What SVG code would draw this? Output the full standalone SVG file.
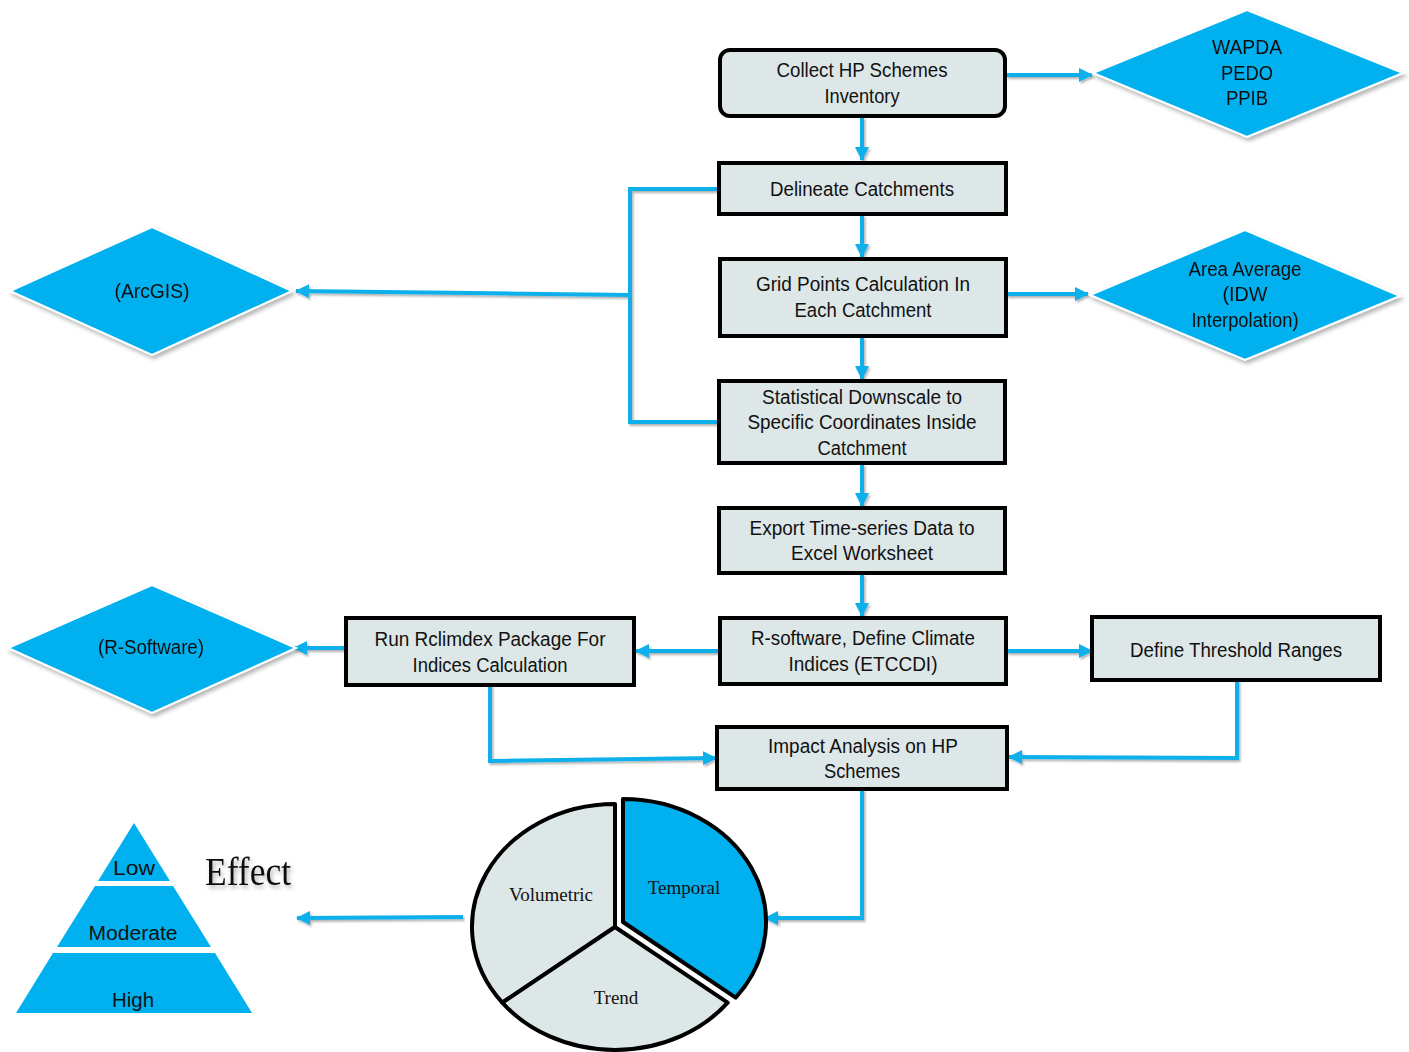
<svg xmlns="http://www.w3.org/2000/svg" width="1409" height="1052" viewBox="0 0 1409 1052">
<defs>
<filter id="sh" x="-10%" y="-10%" width="130%" height="130%">
<feDropShadow dx="2" dy="3" stdDeviation="2" flood-color="#000" flood-opacity="0.3"/>
</filter>
<filter id="lsh" x="-5%" y="-50%" width="110%" height="200%">
<feDropShadow dx="1.5" dy="2" stdDeviation="1.2" flood-color="#000" flood-opacity="0.3"/>
</filter>
<marker id="ah" markerUnits="userSpaceOnUse" markerWidth="14" markerHeight="14" refX="13" refY="7" orient="auto">
<path d="M0,0 L14,7 L0,14 z" fill="#0fb0ea"/>
</marker>
</defs>
<style>
.box{fill:#dde7e7;stroke:#000;stroke-width:4}
.dia{fill:#00b0ef;stroke:#fff;stroke-width:2}
.t{font-family:"Liberation Sans",Arial,sans-serif;font-size:20px;fill:#111;text-anchor:middle}
.s{font-family:"Liberation Serif","Times New Roman",serif;font-size:19px;fill:#111;text-anchor:middle}
.c{fill:none;stroke:#0fb0ea;stroke-width:4}
.a{marker-end:url(#ah)}
.pie{stroke:#000;stroke-width:4;stroke-linejoin:round}
.pyr{fill:#00b0ef}
</style>
<rect width="1409" height="1052" fill="#fff"/>

<g id="connectors" filter="url(#lsh)">
<path class="c a" d="M862,117 L862,160"/>
<path class="c a" d="M1006,75 L1092,75"/>
<path class="c a" d="M862,215 L862,257"/>
<path class="c a" d="M1006,294 L1088,294"/>
<path class="c a" d="M862,337 L862,379"/>
<path class="c a" d="M862,464 L862,506"/>
<path class="c a" d="M862,574 L862,616"/>
<path class="c a" d="M720,651 L636,651"/>
<path class="c a" d="M1006,651 L1092,651"/>
<path class="c a" d="M346,648 L294,648"/>
<path class="c" d="M719,189 L630,189 L630,422 L719,422"/>
<path class="c a" d="M630,295 L296,291"/>
<path class="c a" d="M490,685 L490,761 L716,758"/>
<path class="c a" d="M1237,680 L1237,758 L1009,757"/>
<path class="c a" d="M862,789 L862,918 L765,918"/>
<path class="c a" d="M463,917 L297,918"/>
</g>

<g id="n-collect">
<rect class="box" x="720" y="50" width="285" height="66" rx="10"/>
<text class="t" x="862" y="77" textLength="171" lengthAdjust="spacingAndGlyphs">Collect  HP  Schemes</text>
<text class="t" x="862" y="103" textLength="75" lengthAdjust="spacingAndGlyphs">Inventory</text>
</g>
<g id="n-wapda" filter="url(#sh)">
<polygon class="dia" points="1093,73 1247,10 1403,73 1247,137"/>
<text class="t" x="1247" y="54" textLength="70" lengthAdjust="spacingAndGlyphs">WAPDA</text>
<text class="t" x="1247" y="80" textLength="52" lengthAdjust="spacingAndGlyphs">PEDO</text>
<text class="t" x="1247" y="105" textLength="42" lengthAdjust="spacingAndGlyphs">PPIB</text>
</g>
<g id="n-delineate">
<rect class="box" x="719" y="163" width="287" height="51"/>
<text class="t" x="862" y="196" textLength="184" lengthAdjust="spacingAndGlyphs">Delineate  Catchments</text>
</g>
<g id="n-grid">
<rect class="box" x="720" y="259" width="286" height="77"/>
<text class="t" x="863" y="291" textLength="214" lengthAdjust="spacingAndGlyphs">Grid Points  Calculation  In</text>
<text class="t" x="863" y="317" textLength="137" lengthAdjust="spacingAndGlyphs">Each Catchment</text>
</g>
<g id="n-area" filter="url(#sh)">
<polygon class="dia" points="1090,295 1245,230 1400,296 1245,360"/>
<text class="t" x="1245" y="276" textLength="113" lengthAdjust="spacingAndGlyphs">Area Average</text>
<text class="t" x="1245" y="301" textLength="45" lengthAdjust="spacingAndGlyphs">(IDW</text>
<text class="t" x="1245" y="327" textLength="107" lengthAdjust="spacingAndGlyphs">Interpolation)</text>
</g>
<g id="n-arcgis" filter="url(#sh)">
<polygon class="dia" points="10,291 152,227 292,291 152,355"/>
<text class="t" x="152" y="298" textLength="75" lengthAdjust="spacingAndGlyphs">(ArcGIS)</text>
</g>
<g id="n-downscale">
<rect class="box" x="719" y="381" width="286" height="82"/>
<text class="t" x="862" y="404" textLength="200" lengthAdjust="spacingAndGlyphs">Statistical  Downscale  to</text>
<text class="t" x="862" y="429" textLength="229" lengthAdjust="spacingAndGlyphs">Specific Coordinates  Inside</text>
<text class="t" x="862" y="455" textLength="89" lengthAdjust="spacingAndGlyphs">Catchment</text>
</g>
<g id="n-export">
<rect class="box" x="719" y="508" width="286" height="65"/>
<text class="t" x="862" y="535" textLength="225" lengthAdjust="spacingAndGlyphs">Export  Time-series  Data  to</text>
<text class="t" x="862" y="560" textLength="142" lengthAdjust="spacingAndGlyphs">Excel  Worksheet</text>
</g>
<g id="n-rsoft">
<rect class="box" x="720" y="618" width="286" height="66"/>
<text class="t" x="863" y="645" textLength="224" lengthAdjust="spacingAndGlyphs">R-software,  Define Climate</text>
<text class="t" x="863" y="671" textLength="149" lengthAdjust="spacingAndGlyphs">Indices (ETCCDI)</text>
</g>
<g id="n-threshold">
<rect class="box" x="1092" y="617" width="288" height="63"/>
<text class="t" x="1236" y="657" textLength="212" lengthAdjust="spacingAndGlyphs">Define Threshold  Ranges</text>
</g>
<g id="n-rclimdex">
<rect class="box" x="346" y="618" width="288" height="67"/>
<text class="t" x="490" y="646" textLength="231" lengthAdjust="spacingAndGlyphs">Run Rclimdex  Package For</text>
<text class="t" x="490" y="672" textLength="155" lengthAdjust="spacingAndGlyphs">Indices Calculation</text>
</g>
<g id="n-rsoftware" filter="url(#sh)">
<polygon class="dia" points="8,648 152,585 296,648 152,713"/>
<text class="t" x="151" y="654" textLength="106" lengthAdjust="spacingAndGlyphs">(R-Software)</text>
</g>
<g id="n-impact">
<rect class="box" x="717" y="727" width="290" height="62"/>
<text class="t" x="863" y="753" textLength="190" lengthAdjust="spacingAndGlyphs">Impact Analysis on HP</text>
<text class="t" x="862" y="778" textLength="76" lengthAdjust="spacingAndGlyphs">Schemes</text>
</g>

<g id="n-pie">
<path class="pie" fill="#dde7e7" d="M615,927 L502.3,1002.7 A143,123 0 0 1 615,804 Z"/>
<path class="pie" fill="#dde7e7" d="M615,927 L727.7,1002.7 A143,123 0 0 1 502.3,1002.7 Z"/>
<path class="pie" fill="#00b0ef" transform="translate(8,-5)" d="M615,927 L615,804 A143,123 0 0 1 727.7,1002.7 Z"/>
<text class="s" x="551" y="901">Volumetric</text>
<text class="s" x="684" y="894">Temporal</text>
<text class="s" x="616" y="1004">Trend</text>
</g>

<g id="n-pyramid">
<polygon class="pyr" points="134,823 170,881 98,881"/>
<polygon class="pyr" points="95,886 173,886 211,947 57,947"/>
<polygon class="pyr" points="53,953 215,953 252,1013 16,1013"/>
<text class="t" x="134" y="875" font-size="21" textLength="42" lengthAdjust="spacingAndGlyphs">Low</text>
<text class="t" x="133" y="940" font-size="21" textLength="89" lengthAdjust="spacingAndGlyphs">Moderate</text>
<text class="t" x="133" y="1007" font-size="21" textLength="42" lengthAdjust="spacingAndGlyphs">High</text>
</g>
<g id="n-effect" filter="url(#sh)">
<text x="205" y="885" font-family="'Liberation Serif','Times New Roman',serif" font-size="40" fill="#111" textLength="86" lengthAdjust="spacingAndGlyphs">Effect</text>
</g>
</svg>
